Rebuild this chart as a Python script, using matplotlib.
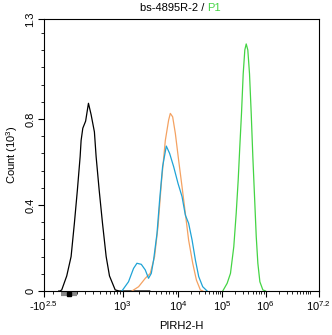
import numpy as np
import matplotlib
matplotlib.use("Agg")
import matplotlib.pyplot as plt
from matplotlib.ticker import FixedLocator
from matplotlib.transforms import blended_transform_factory

plt.rcParams["font.family"] = "Liberation Sans"
plt.rcParams["mathtext.fontset"] = "custom"
plt.rcParams["mathtext.rm"] = "Liberation Sans"
plt.rcParams["mathtext.it"] = "Liberation Sans:italic"

# --- data: fluorescence intensity vs count (10^3) ---
ctrl_x = [-130, -114, -93, -31, 23, 64, 101, 135, 147, 168, 203, 238, 271, 312,
          335, 380, 436, 508, 583, 739, 872, 1500, 2500, 3100]
ctrl_y = [0, 0.0, 0.005, 0.07, 0.16, 0.316, 0.47, 0.625, 0.70, 0.757, 0.79,
          0.873, 0.82, 0.74, 0.625, 0.47, 0.316, 0.16, 0.07, 0.005, 0, 0, 0, 0]

blue_x = [975, 1283, 1580, 1820, 2180, 2570, 2940, 3300, 3630, 4180, 4660,
          5270, 6150, 7050, 8340, 10000, 12300, 14600, 17300, 20700, 24600,
          29200, 35900, 45200]
blue_y = [0, 0.043, 0.105, 0.129, 0.124, 0.098, 0.059, 0.082, 0.144, 0.268,
          0.423, 0.578, 0.674, 0.64, 0.578, 0.50, 0.439, 0.353, 0.315, 0.237,
          0.144, 0.067, 0.02, 0]

orange_x = [1480, 1950, 2570, 3160, 3780, 4360, 5000, 5900, 6770, 7260, 8000,
            8940, 10300, 12300, 14600, 17300, 21400, 25900, 31800, 35900]
orange_y = [0, 0.02, 0.059, 0.082, 0.16, 0.30, 0.50, 0.70, 0.795, 0.826, 0.81,
            0.733, 0.609, 0.485, 0.361, 0.237, 0.129, 0.051, 0.005, 0]

green_x = [101600, 128600, 153500, 183200, 208300, 231800, 252600, 276500,
           302800, 330200, 355800, 387400, 424300, 464700, 506600, 554800,
           607800, 662400, 737800, 865500, 1000000]
green_y = [0, 0.036, 0.082, 0.206, 0.361, 0.516, 0.671, 0.826, 1.01, 1.121,
           1.149, 1.121, 1.01, 0.826, 0.625, 0.439, 0.253, 0.129, 0.043, 0.005, 0]

x_major = [-10 ** 2.5, 1e3, 1e4, 1e5, 1e6, 10 ** 7.2]
x_major_labels = [r"-$10^{2.5}$", r"$10^{3}$", r"$10^{4}$", r"$10^{5}$",
                  r"$10^{6}$", r"$10^{7.2}$"]
y_major = [0, 0.4, 0.8, 1.265]
y_major_labels = ["0", "0.4", "0.8", "1.3"]

# --- biexponential-like display scale ---
X_MIN = -10 ** 2.5
LIN_TOP = 300.0
ANCHOR_DEC = [np.log10(LIN_TOP), 3, 4, 5, 6, 7.2]
ANCHOR_POS = [49.63, 78.6, 134, 178.3, 221.3, 274.3]
LIN_SLOPE = ANCHOR_POS[0] / (LIN_TOP - X_MIN)


def fwd(x):
    x = np.asarray(x, dtype=float)
    lin = (x - X_MIN) * LIN_SLOPE
    lg = np.interp(np.log10(np.clip(x, LIN_TOP, None)), ANCHOR_DEC, ANCHOR_POS)
    return np.where(x < LIN_TOP, lin, lg)


def inv(p):
    p = np.asarray(p, dtype=float)
    lin = p / LIN_SLOPE + X_MIN
    lg = 10 ** np.interp(p, ANCHOR_POS, ANCHOR_DEC)
    return np.where(p < ANCHOR_POS[0], lin, lg)


x_minor = [-200, -100, 0, 100, 200]
for dec in range(2, 7):
    for m in range(2, 10):
        v = m * 10 ** dec
        if v >= 300:
            x_minor.append(v)
x_minor.append(1e7)

fig = plt.figure(figsize=(3.32, 3.35), dpi=100)
ax = fig.add_axes([43.7 / 332, 1 - 291 / 335, 275 / 332, 272 / 335])
ax.set_xscale("function", functions=(fwd, inv))

ax.plot(ctrl_x, ctrl_y, color="black", lw=0.9)
ax.plot(orange_x, orange_y, color="#f4a262", lw=0.9)
ax.plot(blue_x, blue_y, color="#1fa3d6", lw=0.9)
ax.plot(green_x, green_y, color="#44d444", lw=0.9)

ax.set_xlim(x_major[0], x_major[-1])
ax.set_ylim(0, 1.265)

ax.xaxis.set_major_locator(FixedLocator(x_major))
ax.xaxis.set_minor_locator(FixedLocator(x_minor))
ax.set_xticklabels(x_major_labels)
ax.set_yticks(y_major)
ax.set_yticklabels(y_major_labels, rotation=90, va="center")
ax.yaxis.set_minor_locator(FixedLocator(np.arange(0.08, 1.25, 0.08)))

ax.tick_params(which="major", direction="out", length=4, width=0.8, labelsize=8, pad=2)
ax.tick_params(which="minor", direction="out", length=2.5, width=0.6)
for s in ax.spines.values():
    s.set_linewidth(0.8)

# zero marker under the axis
tr = blended_transform_factory(ax.transData, ax.transAxes)
ax.plot([-100, 100], [-0.012, -0.012], color="#888888", lw=3, transform=tr,
        clip_on=False, solid_capstyle="butt")
ax.plot([0], [-0.012], marker="s", ms=2.5, color="black", transform=tr, clip_on=False)

ax.set_xlabel("PIRH2-H", fontsize=8, labelpad=6)
ax.set_ylabel(r"Count $(10^{3})$", fontsize=8, labelpad=4)

fig.text(204 / 332, 1 - 8 / 335, "bs-4895R-2 /", ha="right", va="center", fontsize=8)
fig.text(207 / 332, 1 - 8 / 335, "P1", ha="left", va="center", fontsize=8,
         color="#44d444")

fig.savefig("out.png", dpi=100)
